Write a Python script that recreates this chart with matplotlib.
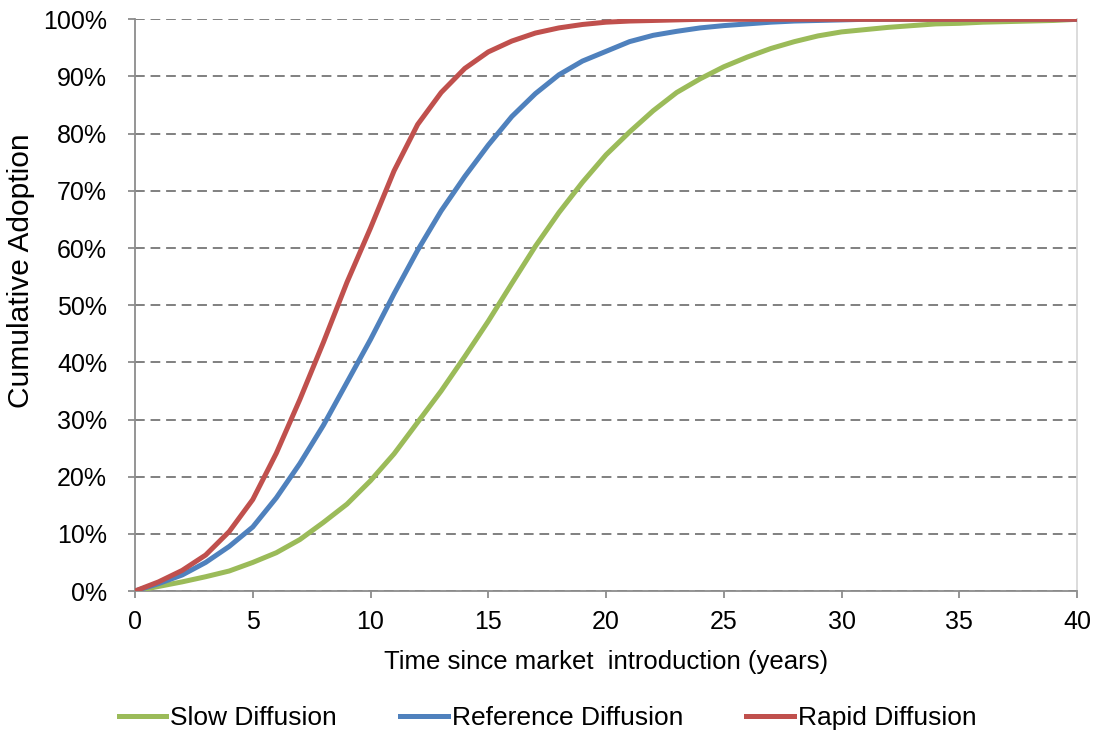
import numpy as np
import matplotlib.pyplot as plt
from matplotlib.ticker import FuncFormatter

plt.rcParams['font.family'] = ['Liberation Sans', 'DejaVu Sans']

years = list(range(0, 41))

slow = [0, 0.8, 1.6, 2.5, 3.5, 5.0, 6.7, 9.0, 12.0, 15.2, 19.3, 24.0, 29.5, 35.0,
        41.0, 47.2, 53.8, 60.3, 66.2, 71.5, 76.3, 80.3, 84.0, 87.2, 89.6, 91.7,
        93.4, 94.9, 96.1, 97.1, 97.8, 98.2, 98.6, 98.9, 99.2, 99.3, 99.5, 99.6,
        99.7, 99.8, 100]
reference = [0, 1.3, 2.8, 5.0, 7.8, 11.2, 16.3, 22.3, 29.0, 36.5, 44.0, 52.0,
             59.6, 66.5, 72.5, 78.0, 83.0, 87.0, 90.3, 92.7, 94.4, 96.1, 97.2,
             97.9, 98.5, 98.9, 99.2, 99.5, 99.7, 99.8, 99.9, 100, 100, 100, 100,
             100, 100, 100, 100, 100, 100]
rapid = [0, 1.6, 3.6, 6.3, 10.4, 16.0, 24.1, 33.5, 43.5, 54.0, 63.5, 73.5, 81.6,
         87.2, 91.4, 94.3, 96.2, 97.6, 98.5, 99.1, 99.5, 99.7, 99.8, 99.9, 100,
         100, 100, 100, 100, 100, 100, 100, 100, 100, 100, 100, 100, 100, 100,
         100, 100]

series = [("Slow Diffusion", slow, "#9BBB59"),
          ("Reference Diffusion", reference, "#4F81BD"),
          ("Rapid Diffusion", rapid, "#C0504D")]

fig = plt.figure(figsize=(10.95, 7.32), dpi=100)
ax = fig.add_axes([0.1233, 0.1926, 0.8603, 0.781])

for name, vals, col in series:
    ax.plot(years, np.array(vals) / 100.0, color=col, lw=3.6, label=name,
            solid_joinstyle='miter', zorder=3)

ax.set_xlim(0, 40)
ax.set_ylim(0, 1.0)
ax.set_xticks(range(0, 41, 5))
ax.set_yticks(np.arange(0, 1.01, 0.1))
ax.yaxis.set_major_formatter(FuncFormatter(lambda v, p: "%d%%" % round(v * 100)))
ax.grid(axis='y', color='#808080', linestyle=(0, (5, 3)), lw=1.4, zorder=1)
ax.set_axisbelow(True)

for s in ['left', 'bottom']:
    ax.spines[s].set_color('#8C8C8C')
    ax.spines[s].set_linewidth(1.3)
ax.spines['top'].set_visible(False)
ax.spines['right'].set_color('#D9D9D9')
ax.spines['right'].set_linewidth(1.3)
ax.tick_params(axis='both', labelsize=18, length=5, width=1.3, color='#8C8C8C',
               direction='out')
ax.tick_params(axis='x', pad=9)
ax.tick_params(axis='y', pad=15)

ax.set_xlabel("Time since market  introduction (years)", fontsize=18.5, labelpad=11)
ax.set_ylabel("Cumulative Adoption", fontsize=21.5)
ax.yaxis.set_label_coords(-0.106, 0.56)

fig.legend(loc='lower center', ncol=3, frameon=False, fontsize=19,
           bbox_to_anchor=(0.5, -0.03), handlelength=1.8, handletextpad=0.15,
           columnspacing=2.4)

fig.savefig("out.png", dpi=100)
